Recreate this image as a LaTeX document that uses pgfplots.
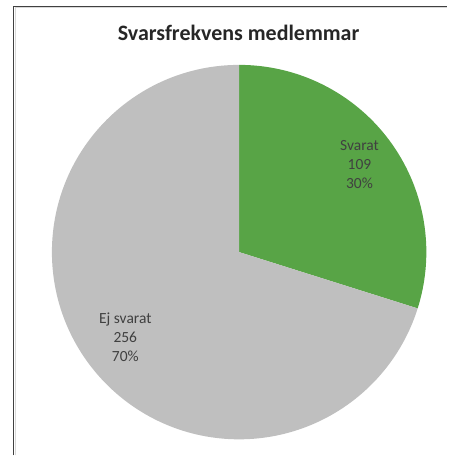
\documentclass[border=0pt]{standalone}
\usepackage{pgfplots}
\pgfplotsset{compat=1.18}
\usepackage{pgfplotstable}
\usepackage{fontspec}
\setmainfont{Carlito}
\definecolor{pgreen}{HTML}{58A446}
\definecolor{pgrey}{HTML}{BFBFBF}
\definecolor{ptext}{HTML}{404040}
\definecolor{ptitle}{HTML}{262626}
\pgfplotstableread{
value pct
109 30
256 70
}\piedata
\begin{document}
\begin{tikzpicture}
\pgfplotstablegetelem{0}{value}\of\piedata \let\va\pgfplotsretval
\pgfplotstablegetelem{1}{value}\of\piedata \let\vb\pgfplotsretval
\pgfmathsetmacro\frac{\va/(\va+\vb)}
\pgfmathsetmacro\aend{90-360*\frac}
\begin{axis}[
  scale only axis, width=448bp, height=456bp,
  xmin=0, xmax=448, ymin=0, ymax=456,
  hide axis, clip=false,
]
\path (axis cs:0,0) rectangle (axis cs:448,456);
% frame
\draw[line width=1.2bp, black!15] (axis cs:15.2,0) -- (axis cs:15.2,448.2) -- (axis cs:448,448.2);
\draw[line width=1.4bp, ptext] (axis cs:13.8,0) -- (axis cs:13.8,449.5) -- (axis cs:448,449.5);
% pie
\fill[pgreen] (axis cs:239.5,203.5) -- (axis cs:239.5,391) arc[start angle=90, end angle=\aend, radius=187.5bp] -- cycle;
\fill[pgrey] (axis cs:239.5,203.5) -- (axis cs:239.5,391) arc[start angle=90, end angle=\aend+360, radius=187.5bp] -- cycle;
% title
\node[anchor=base, font=\fontsize{22bp}{26bp}\selectfont\bfseries, text=ptitle] at (axis cs:239,415.3) {Svarsfrekvens medlemmar};
% labels
\begin{scope}[every node/.style={anchor=base, font=\fontsize{15.5bp}{19bp}\selectfont, text=ptext}]
\node at (axis cs:360,305.3) {Svarat};
\node at (axis cs:360,286) {109};
\node at (axis cs:360,267) {30\%};
\node at (axis cs:125.5,132) {Ej svarat};
\node at (axis cs:125.5,113.3) {256};
\node at (axis cs:125.5,94.3) {70\%};
\end{scope}
\end{axis}
\end{tikzpicture}
\end{document}
